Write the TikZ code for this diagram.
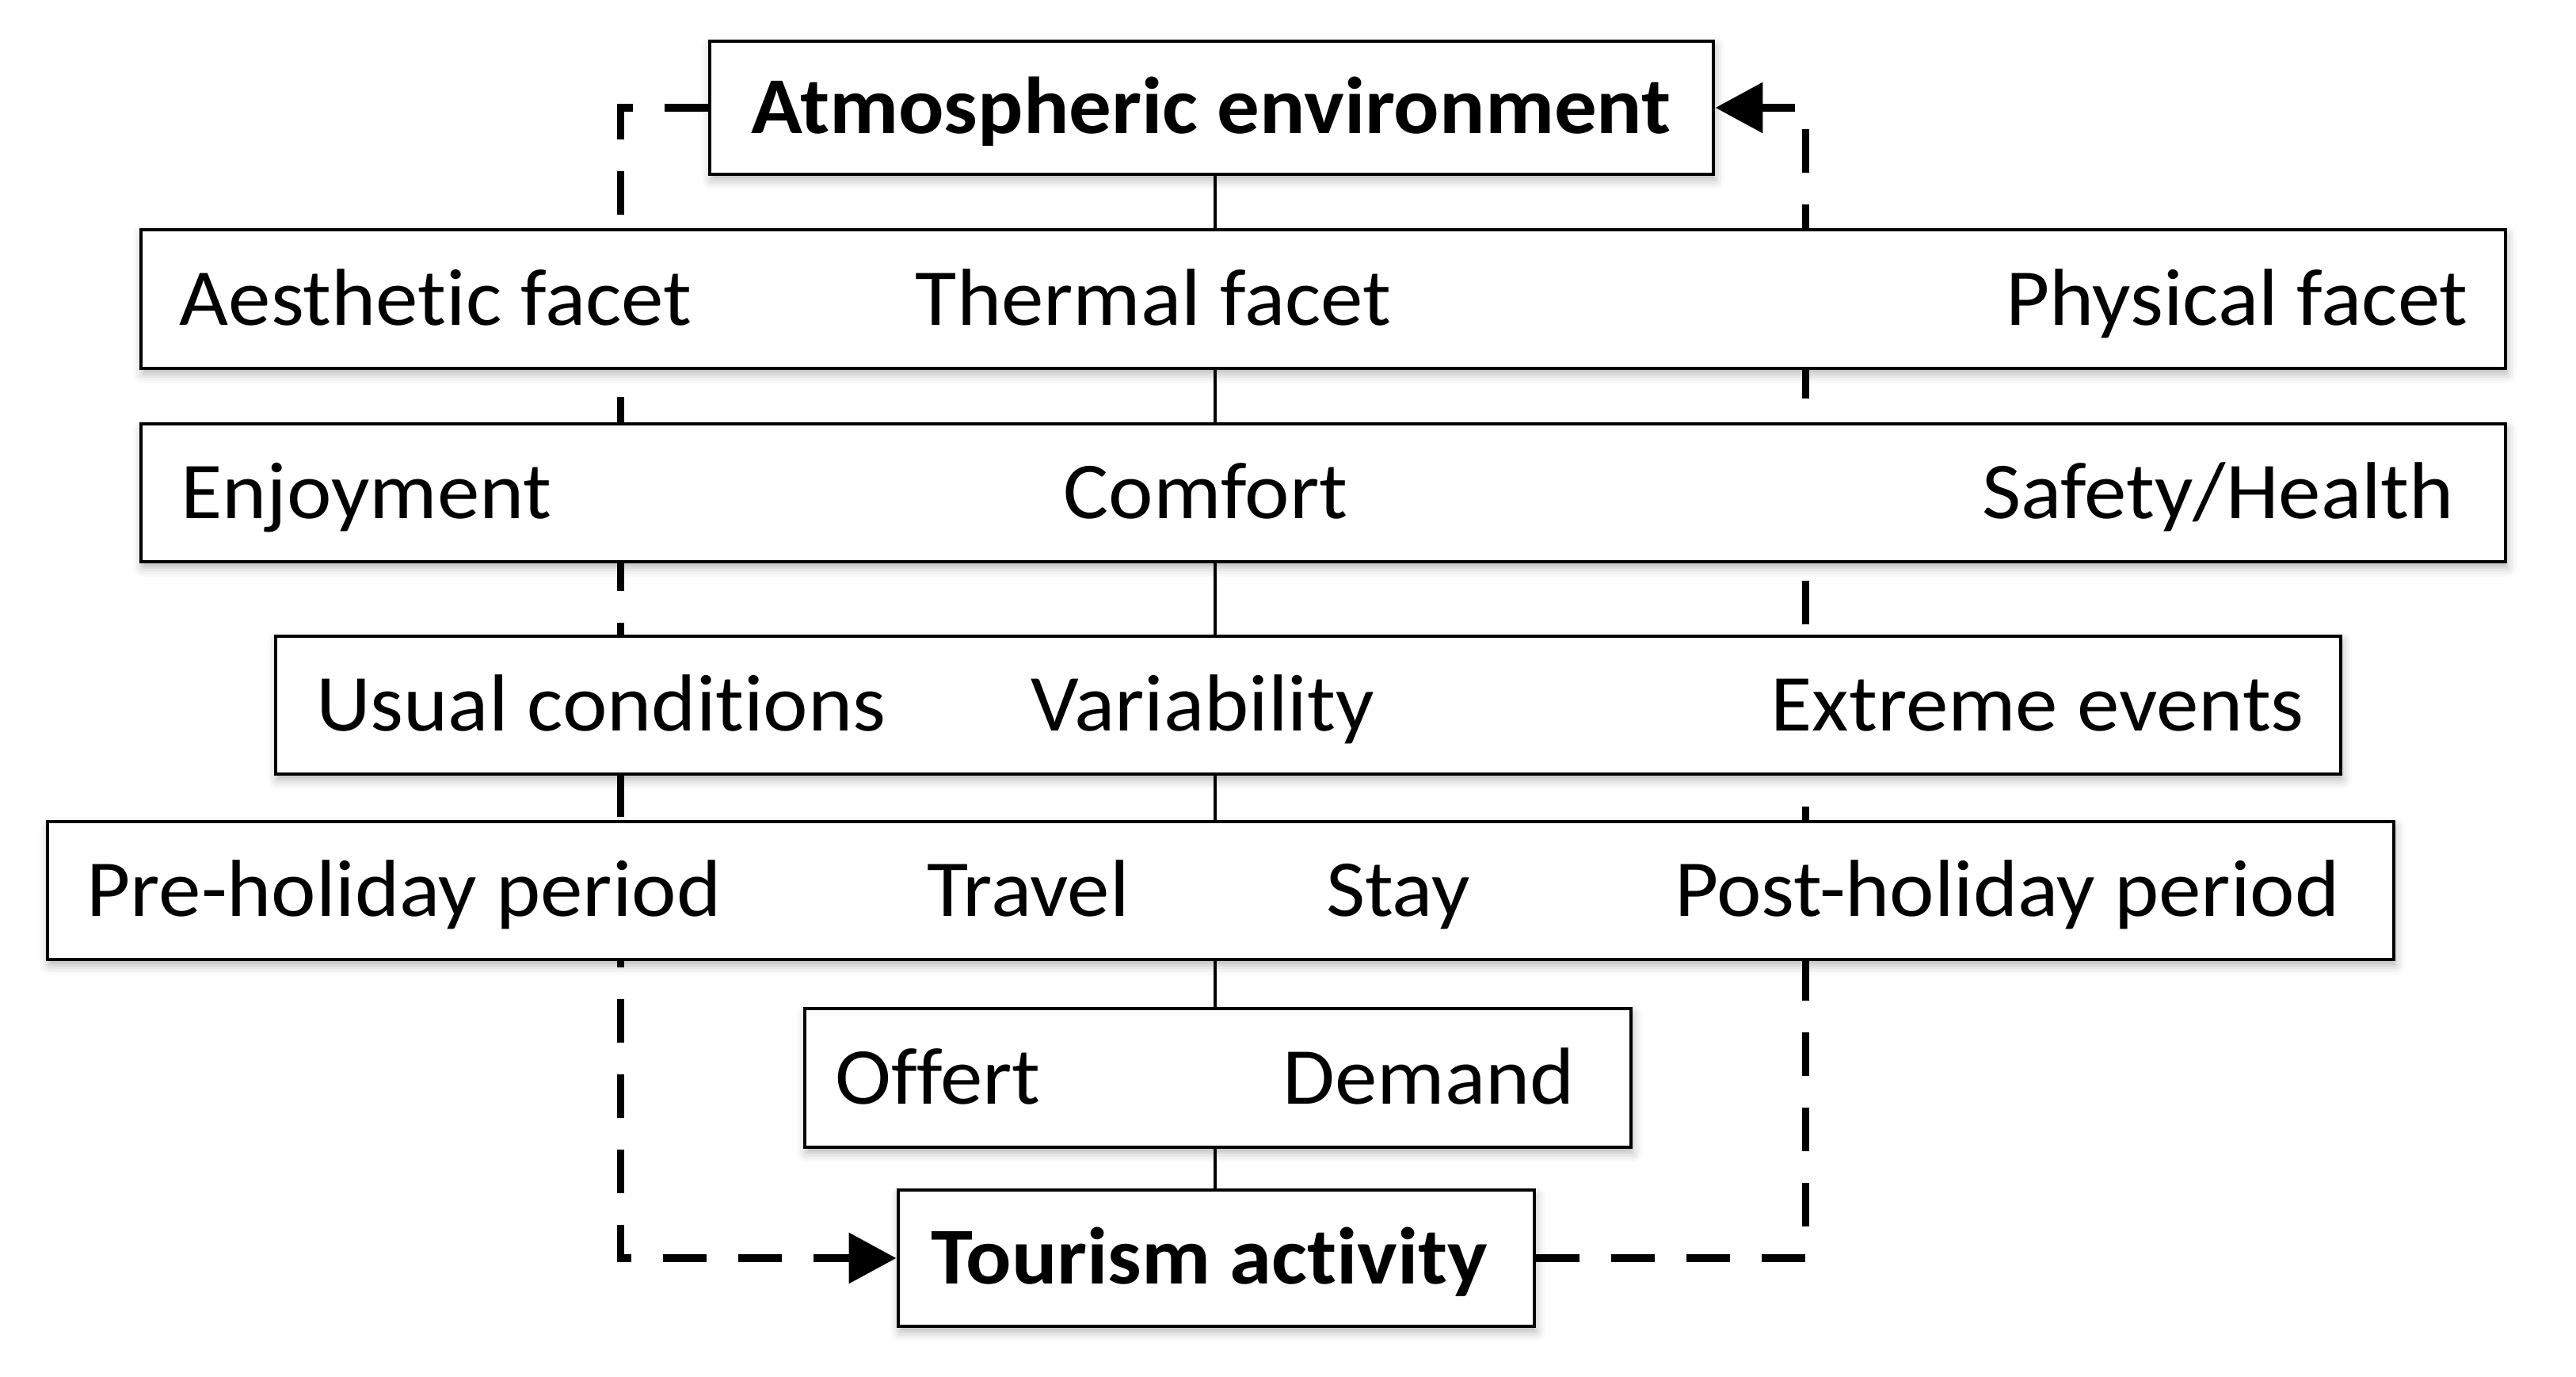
\documentclass[tikz,border=0pt]{standalone}
\usepackage{fontspec}
\setmainfont[FakeStretch=1.05,Ligatures=NoCommon]{Carlito}
\usepackage{tikz}
\usetikzlibrary{arrows.meta,positioning,calc,shadows.blur}
\pgfdeclarelayer{background}
\pgfsetlayers{background,main}

\begin{document}
\begin{tikzpicture}[every node/.style={font=\fontsize{29pt}{34pt}\selectfont}, frame/.style={draw,line width=1.4pt,fill=white,inner sep=0pt,blur shadow={shadow xshift=0.02cm,shadow yshift=-0.07cm,shadow blur radius=0.12cm,shadow opacity=30}}, lbl/.style={anchor=base,inner sep=0pt}, link/.style={line width=1pt}, loopline/.style={line width=2.8pt,dash pattern=on 0.55cm off 0.40cm,-{Triangle[length=0.6cm,width=0.62cm]}}]
    \useasboundingbox (0,0) rectangle (32.52,17.38);
    % boxes, top to bottom
    \node[frame,minimum width=12.67cm,minimum height=1.68cm] (atm) at (15.295,16.02) {};
    \node[frame,minimum width=29.85cm,minimum height=1.75cm] (facet) at (16.705,13.605) {};
    \node[frame,minimum width=29.85cm,minimum height=1.74cm] (enjoy) at (16.705,11.16) {};
    \node[frame,minimum width=26.07cm,minimum height=1.74cm] (usual) at (16.515,8.48) {};
    \node[frame,minimum width=29.62cm,minimum height=1.74cm] (period) at (15.41,6.14) {};
    \node[frame,minimum width=10.43cm,minimum height=1.75cm] (market) at (15.375,3.775) {};
    \node[frame,minimum width=8.03cm,minimum height=1.72cm] (tour) at (15.355,1.5) {};
    % texts
    \node[lbl,font=\fontsize{29pt}{34pt}\selectfont\bfseries] (atmtxt) at (15.29,15.69) {Atmospheric environment};
    \node[lbl,font=\fontsize{29pt}{34pt}\selectfont\bfseries] (tourtxt) at (15.27,1.17) {Tourism activity};
    \foreach \x/\lab/\nm in {5.50/Aesthetic facet/aes,14.56/Thermal facet/the,28.24/Physical facet/phy}{
      \node[lbl] (\nm) at (\x,13.275) {\lab};
    }
    \foreach \x/\lab/\nm in {4.625/Enjoyment/enj,15.22/Comfort/com,28.00/{Safety/Health}/saf}{
      \node[lbl] (\nm) at (\x,10.83) {\lab};
    }
    \foreach \x/\lab/\nm in {7.59/Usual conditions/usu,15.18/Variability/var,25.72/Extreme events/ext}{
      \node[lbl] (\nm) at (\x,8.15) {\lab};
    }
    \foreach \x/\lab/\nm in {5.10/Pre-holiday period/pre,12.98/Travel/tra,17.65/Stay/sta,25.34/Post-holiday period/pos}{
      \node[lbl] (\nm) at (\x,5.81) {\lab};
    }
    \foreach \x/\lab/\nm in {11.84/Offert/off,18.04/Demand/dem}{
      \node[lbl] (\nm) at (\x,3.445) {\lab};
    }
    % central links
    \coordinate (spine) at (15.34,0);
    \foreach \a/\b in {atm/facet,facet/enjoy,enjoy/usual,usual/period,period/market,market/tour}{
      \draw[link] (\a.south -| spine) -- (\b.north -| spine);
    }
    % feedback loop behind the boxes
    \begin{pgfonlayer}{background}
      \draw[loopline] (atm.west) -| ([xshift=-3.48cm]tour.west) -- (tour.west);
      \draw[loopline] (tour.east) -| ([xshift=1.14cm]atm.east) -- (atm.east);
    \end{pgfonlayer}
\end{tikzpicture}
\end{document}
